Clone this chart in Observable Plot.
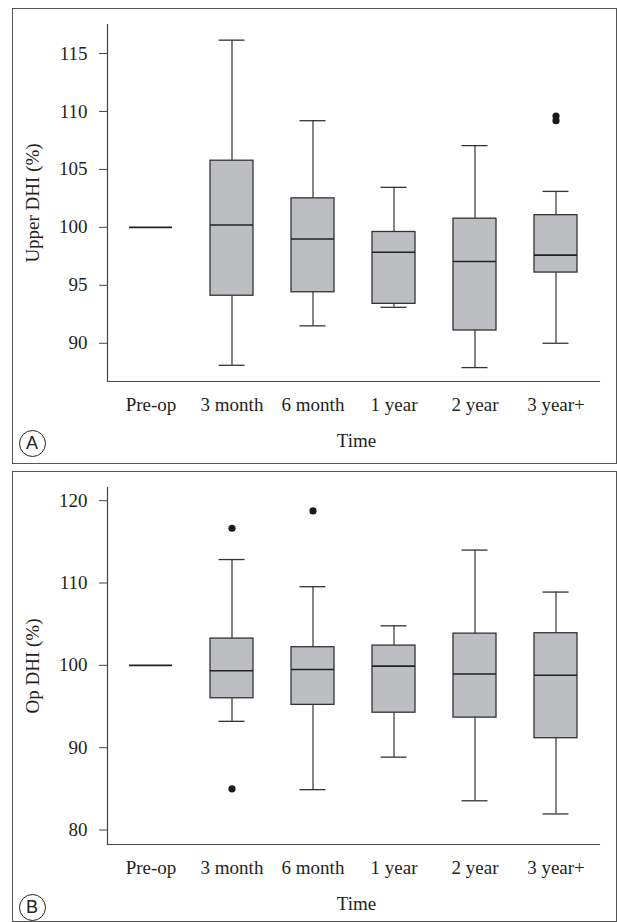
<!DOCTYPE html>
<html><head><meta charset="utf-8">
<script src="https://cdn.jsdelivr.net/npm/d3@7"></script>
<script src="https://cdn.jsdelivr.net/npm/@observablehq/plot@0.6"></script>
<style>
body{margin:0;background:#fff;}
#wrap{position:relative;width:617px;height:922px;overflow:hidden;font-family:"Liberation Serif",serif;}
.panel{position:absolute;left:12px;width:605px;border:1.5px solid #555;box-sizing:border-box;pointer-events:none;}
.tag{position:absolute;width:27px;height:27px;border:1.3px solid #222;border-radius:50%;box-sizing:border-box;font-family:"Liberation Sans",Arial,sans-serif;font-size:18px;line-height:25px;text-align:center;color:#222;}
.chart{position:absolute;left:0;}
</style></head><body><div id="wrap"></div>
<script>
const categories = ["Pre-op","3 month","6 month","1 year","2 year","3 year+"];

// Panel A: Upper DHI (%)
const upperLow    = [100, 88.1, 91.5, 93.1, 87.9, 90.0];
const upperQ1     = [100, 94.1, 94.4, 93.4, 91.1, 96.1];
const upperMedian = [100, 100.2, 99.0, 97.85, 97.05, 97.6];
const upperQ3     = [100, 105.75, 102.5, 99.6, 100.75, 101.05];
const upperHigh   = [100, 116.15, 109.2, 103.45, 107.05, 103.1];
const upperOutlierCat = ["3 year+", "3 year+"];
const upperOutlierVal = [109.6, 109.2];
const upperTicks = [90, 95, 100, 105, 110, 115];
const upperDomain = [86.7, 117.5];

// Panel B: Op DHI (%)
const opLow    = [100, 93.2, 84.9, 88.85, 83.55, 81.95];
const opQ1     = [100, 96.0, 95.2, 94.25, 93.65, 91.15];
const opMedian = [100, 99.35, 99.5, 99.9, 98.95, 98.8];
const opQ3     = [100, 103.25, 102.2, 102.4, 103.85, 103.9];
const opHigh   = [100, 112.85, 109.55, 104.8, 114.0, 108.9];
const opOutlierCat = ["3 month", "3 month", "6 month"];
const opOutlierVal = [116.65, 85.0, 118.75];
const opTicks = [80, 90, 100, 110, 120];
const opDomain = [78.24, 121.6];

const wrap = document.getElementById("wrap");

function panel({top, height, low, q1, med, q3, high, oCat, oVal, ticks, domain, yLabel}) {
  const rows = categories.map((c, i) => ({cat: c, lo: low[i], q1: q1[i], med: med[i], q3: q3[i], hi: high[i]}));
  const boxes = rows.filter(r => r.q3 > r.q1);
  const outliers = oCat.map((c, i) => ({cat: c, v: oVal[i]}));
  const ink = "#231f20";
  const chart = Plot.plot({
    width: 617, height,
    marginLeft: 107, marginRight: 18, marginTop: 24, marginBottom: height - 381,
    x: {type: "band", domain: categories, paddingInner: 0.471, paddingOuter: 0.26},
    y: {domain},
    style: {fontFamily: "'Liberation Serif', serif", fontSize: "19px", color: ink, background: "transparent"},
    marks: [
      Plot.frame({anchor: "left", stroke: "#444", strokeWidth: 1.2}),
      Plot.frame({anchor: "bottom", stroke: "#444", strokeWidth: 1.2}),
      Plot.axisY({ticks, tickSize: 8, tickPadding: 12, label: null, fontSize: 19, stroke: "#444"}),
      Plot.axisX({tickSize: 0, tickPadding: 16, label: null, fontSize: 19}),
      Plot.ruleX(rows, {x: "cat", y1: "lo", y2: "hi", stroke: "#333", strokeWidth: 1.2}),
      Plot.barY(boxes, {x: "cat", y1: "q1", y2: "q3", fill: "#bdbec2", stroke: "#333", strokeWidth: 1.3}),
      Plot.tickY(rows, {x: "cat", y: "med", stroke: "#222", strokeWidth: 1.6}),
      Plot.tickY(boxes, {x: "cat", y: "lo", insetLeft: 8.5, insetRight: 8.5, stroke: "#333", strokeWidth: 1.3}),
      Plot.tickY(boxes, {x: "cat", y: "hi", insetLeft: 8.5, insetRight: 8.5, stroke: "#333", strokeWidth: 1.3}),
      Plot.dot(outliers, {x: "cat", y: "v", r: 3.6, fill: "#1a1a1a", stroke: null}),
      Plot.text([yLabel], {frameAnchor: "left", text: d => d, rotate: -90, dx: -75, textAnchor: "middle", lineAnchor: "middle", fontSize: 19, fill: ink}),
      Plot.text(["Time"], {frameAnchor: "bottom", text: d => d, dy: 59, dx: 3, textAnchor: "middle", lineAnchor: "middle", fontSize: 19, fill: ink})
    ]
  });
  chart.classList.add("chart");
  chart.style.top = top + "px";
  wrap.appendChild(chart);
}

panel({top: 0, height: 463, low: upperLow, q1: upperQ1, med: upperMedian, q3: upperQ3, high: upperHigh,
  oCat: upperOutlierCat, oVal: upperOutlierVal, ticks: upperTicks, domain: upperDomain, yLabel: "Upper DHI (%)"});
panel({top: 463, height: 459, low: opLow, q1: opQ1, med: opMedian, q3: opQ3, high: opHigh,
  oCat: opOutlierCat, oVal: opOutlierVal, ticks: opTicks, domain: opDomain, yLabel: "Op DHI (%)"});

function box(top, h) {
  const d = document.createElement("div");
  d.className = "panel"; d.style.top = top + "px"; d.style.height = h + "px";
  wrap.appendChild(d);
}
box(8, 456);
box(471, 451);

function tag(letter, cx, cy) {
  const d = document.createElement("div");
  d.className = "tag"; d.textContent = letter;
  d.style.left = (cx - 13.5) + "px"; d.style.top = (cy - 13.5) + "px";
  wrap.appendChild(d);
}
tag("A", 32, 443);
tag("B", 32, 907);
</script></body></html>
